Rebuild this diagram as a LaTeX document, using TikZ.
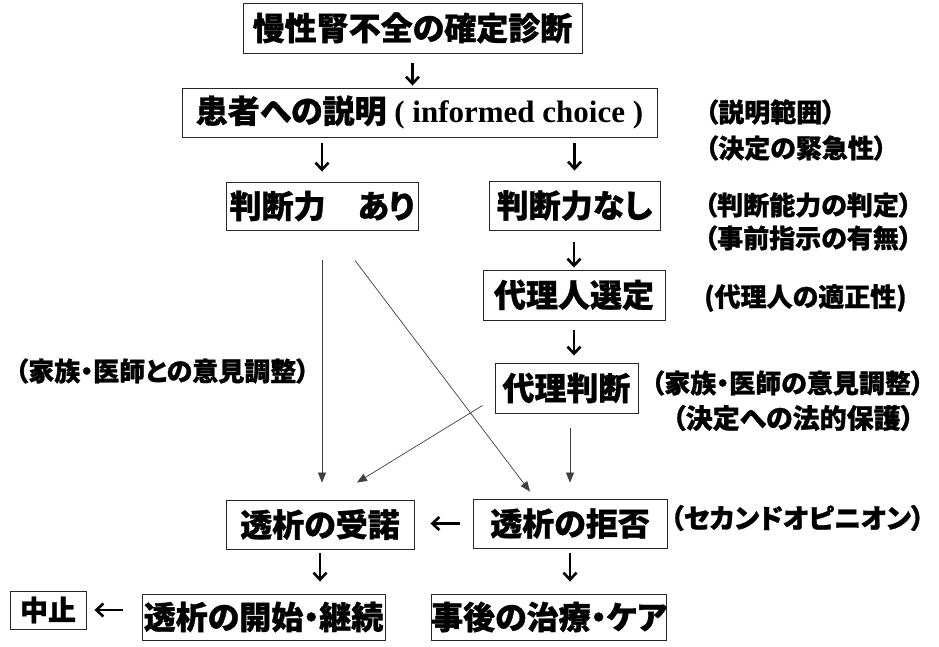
\documentclass[tikz,border=0pt]{standalone}
\usepackage{fontspec}
\newfontfamily\jp[RawFeature=+palt, BoldFeatures={FakeBold=1}]{Noto Sans CJK JP}
\newfontfamily\tnr{Liberation Serif}
\usetikzlibrary{arrows.meta,calc}
\begin{document}
\begin{tikzpicture}[x=1pt,y=-1pt,
  box/.style={draw=black!85, line width=0.9pt, inner sep=0pt,
    font=\jp\bfseries\fontsize{32pt}{32pt}\selectfont},
  note/.style={inner sep=0pt, anchor=west,
    font=\jp\bfseries\fontsize{26pt}{26pt}\selectfont},
  bignote/.style={note, font=\jp\bfseries\fontsize{27pt}{27pt}\selectfont},
  garr/.style={line width=2.6pt, -{Straight Barb[length=7pt,width=13pt]}},
  tarr/.style={line width=0.7pt, draw=black!75, -{Triangle[length=10pt,width=8pt]}}]
\useasboundingbox[fill=white] (0,0) rectangle (939,646);

% boxes
\node[box, minimum width=339pt, minimum height=50pt] (b1) at (412.5,28) {慢性腎不全の確定診断};
\node[box, minimum width=475pt, minimum height=49pt] (b2) at (419.5,112.5) {患者への説明{\tnr\bfseries\fontsize{31pt}{31pt}\selectfont\ ( informed choice )}};
\node[box, minimum width=192pt, minimum height=48pt] (ja) at (322,206) {判断力　あり};
\node[box, minimum width=171pt, minimum height=49pt] (jn) at (574.5,205.5) {判断力なし};
\node[box, minimum width=182pt, minimum height=50pt] (dr) at (574,295) {代理人選定};
\node[box, minimum width=143pt, minimum height=50pt] (dj) at (566.5,388) {代理判断};
\node[box, minimum width=188pt, minimum height=49pt] (ju) at (320,524.5) {透析の受諾};
\node[box, minimum width=194pt, minimum height=49pt] (ky) at (570,523.5) {透析の拒否};
\node[box, minimum width=76pt, minimum height=38pt, font=\jp\bfseries\fontsize{28pt}{28pt}\selectfont] (ch) at (48,610) {中止};
\node[box, minimum width=243pt, minimum height=46pt] (ka) at (263.5,617) {透析の開始・継続};
\node[box, minimum width=212pt, minimum height=46pt] (jg) at (549,617) {事後の治療・ケア};

% annotations
\node[note] (n1) at (705,112) {（説明範囲）};
\node[note] (n2) at (705,148) {（決定の緊急性）};
\node[note] (n3) at (704,205) {（判断能力の判定）};
\node[note] (n4) at (704,238) {（事前指示の有無）};
\node[note] (n5) at (704,298) {(代理人の適正性)};
\node[note] (n6) at (651,383) {（家族・医師の意見調整）};
\node[bignote] (n7) at (672,418) {（決定への法的保護）};
\node[note] (n8) at (15,371) {（家族・医師との意見調整）};
\node[bignote] (n9) at (670,518) {（セカンドオピニオン）};

% glyph-like arrows
\draw[garr, shorten <=10pt, shorten >=2pt] (b1.south) -- (b1.south |- b2.north);
\draw[garr, shorten <=6pt, shorten >=10pt] (b2.south -| ja.north) -- (ja.north);
\draw[garr, shorten <=6pt, shorten >=10pt] (b2.south -| jn.north) -- (jn.north);
\draw[garr, shorten <=12pt, shorten >=2pt] (jn.south -| dr.north) -- (dr.north);
\draw[garr, shorten <=10pt, shorten >=7pt] (dr.south) -- (dr.south |- dj.north);
\draw[garr, shorten <=13pt, shorten >=16pt] (ky.west) -- (ky.west -| ju.east);
\draw[garr, shorten <=4pt, shorten >=12pt] (ju.south) -- (ju.south |- ka.north);
\draw[garr, shorten <=5pt, shorten >=12pt] (ky.south) -- (ky.south |- jg.north);
\draw[garr, shorten <=19pt, shorten >=8pt] (ka.west |- ch.east) -- (ch.east);

% thin arrows
\draw[tarr, shorten <=30pt, shorten >=17pt] (ja.south) -- (ja.south |- ju.north);
\draw[tarr] ($(ja.south)+(33,30)$) -- ($(ky.north)+(-40,-7)$);
\draw[tarr] ($(dj.south west)+(-12,-8)$) -- ($(ju.north)+(37,-17)$);
\draw[tarr, shorten <=15pt, shorten >=16pt] (dj.south -| ky.north) -- (ky.north);
\end{tikzpicture}
\end{document}
